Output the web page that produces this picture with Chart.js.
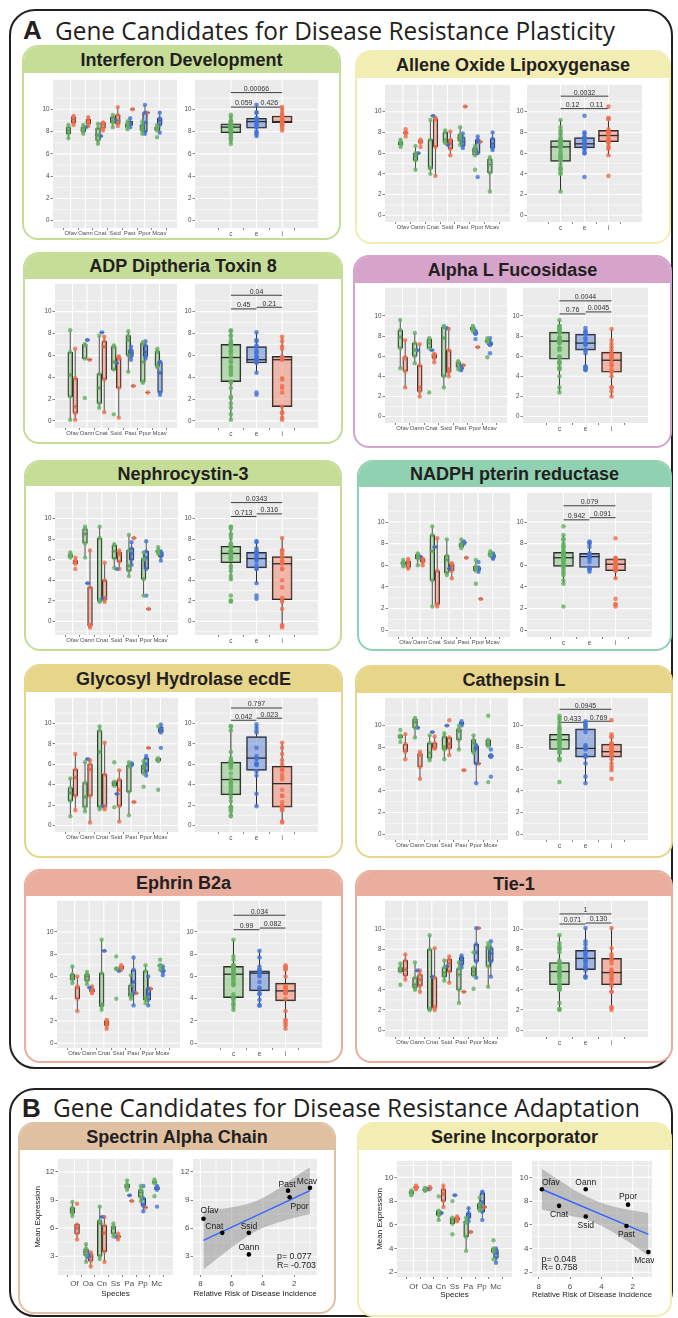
<!DOCTYPE html>
<html><head><meta charset="utf-8">
<script src="https://cdn.jsdelivr.net/npm/chart.js@4.4.1/dist/chart.umd.min.js"></script>
<style>
html,body{margin:0;padding:0;background:#fff;}
body{position:relative;width:678px;height:1318px;overflow:hidden;font-family:'Liberation Sans',Arial,sans-serif;}
.sec{position:absolute;box-sizing:border-box;border:2px solid #231f20;border-radius:26px;}
.letter{position:absolute;font-family:'Liberation Sans',Arial,sans-serif;font-weight:bold;font-size:26px;color:#231f20;line-height:1;}
.stitle{position:absolute;font-family:'Open Sans',sans-serif;font-weight:400;font-size:26px;color:#231f20;line-height:1;white-space:nowrap;transform-origin:0 0;}
.panel{position:absolute;box-sizing:border-box;border:2px solid;border-radius:16px;background:#fff;overflow:hidden;}
.hdr{position:absolute;left:0;right:0;top:0;display:flex;align-items:center;justify-content:center;font-weight:bold;font-size:18px;color:#231f20;white-space:nowrap;}
canvas{position:absolute;}
</style></head><body>
<div class="sec" style="left:9px;top:9px;width:664px;height:1060px;"></div>
<div class="letter" style="left:23px;top:17px;">A</div>
<div class="stitle" id="tA" style="left:55px;top:17px;">Gene Candidates for Disease Resistance Plasticity</div>
<div class="sec" style="left:9px;top:1088px;width:664px;height:229px;"></div>
<div class="letter" style="left:22px;top:1095px;">B</div>
<div class="stitle" id="tB" style="left:53px;top:1094px;">Gene Candidates for Disease Resistance Adaptation</div>
<script>
// ---------------- DATA ----------------
const SPECIES = ['Ofav','Oann','Cnat','Ssid','Past','Ppor','Mcav'];
const SPECIES_SHORT = ['Of','Oa','Cn','Ss','Pa','Pp','Mc'];
const GROUPS = ['c','e','i'];

// Interferon Development
const ifnC = [[7.4,7.8,8.1,8.4,8.6],[7.8,8.0,8.1,8.4,8.6],[6.9,7.2,7.7,8.3,8.7],[8.4,8.8,9.0,9.3,9.5],[8.2,8.4,8.6,8.7,8.9],[7.8,8.1,8.3,8.6,8.9],[7.5,8.1,8.3,8.4,8.6]];
const ifnE = [[],[8.4],[7.6],[9.0],[8.4,8.7,9.2],[7.8,8.0,8.8,9.7,10.4],[7.9,8.6,9.0,9.2,9.7]];
const ifnI = [[8.6,8.8,9.1,9.3,9.4],[8.5,8.7,8.8,9.1,9.3],[8.1,8.3,8.7,8.8,8.8],[8.5,8.7,9.0,9.5,10.2],[10.0],[9.7],[]];
const ifnBox = [[6.9,7.9,8.4,8.7,9.5],[7.5,8.3,8.9,9.2,10.4],[8.1,8.8,8.9,9.4,10.2]];
const ifnP = ['0.059','0.426','0.00066'];
const ifnPY = [10.2,10.2,11.5];

// Allene Oxide Lipoxygenase
const aoxC = [[6.6,6.8,7.0,7.1,7.3],[4.4,5.3,5.7,6.0,6.7],[4.0,4.5,4.6,7.3,9.2],[7.0,7.0,7.3,8.0,8.2],[6.8,7.2,7.5,7.8,8.5],[4.4,5.8,6.2,6.5,6.7],[2.3,4.1,4.9,5.4,5.6]];
const aoxE = [[],[6.0],[9.6],[6.8],[6.5,6.7,7.1,7.5,7.9],[3.7,6.0,7.1,7.3,7.6],[6.3,6.5,6.9,7.4,8.0]];
const aoxI = [[7.6,7.9,8.0,8.0,8.3],[6.6,7.0,7.1,7.2,7.3],[3.8,6.6,9.3,9.3,9.4],[5.8,6.4,7.0,7.3,8.1],[10.5],[7.1],[]];
const aoxBox = [[2.3,5.2,6.6,7.2,9.2],[6.0,6.5,6.9,7.5,8.0],[5.8,7.1,7.7,8.2,9.4]];
const aoxP = ['0.12','0.11','0.0032'];
const aoxPY = [10.3,10.3,11.5];

// ADP Diptheria Toxin 8
const adpC = [[0.1,2.2,4.2,6.3,8.3],[2.1,5.7,6.9,7.0,7.0],[1.2,1.6,3.0,4.3,7.8],[0.6,4.7,5.4,6.8,6.9],[4.5,6.0,7.4,7.8,8.2],[3.5,3.6,5.4,7.1,7.2],[4.9,5.0,6.3,6.4,6.6]];
const adpE = [[],[7.4],[8.1],[5.3],[5.6,5.9,6.2,6.5,6.8],[5.7,5.9,6.3,6.9,7.3],[2.4,2.6,4.4,5.4,5.4]];
const adpI = [[0.1,0.7,1.3,3.9,6.6],[5.6],[0.8,3.8,6.8,7.3,7.7],[0.3,3.0,5.7,5.8,5.9],[3.2],[2.6],[]];
const adpBox = [[0.1,3.6,5.8,7.0,8.3],[4.4,5.3,5.6,6.8,8.1],[0.1,1.3,5.6,5.9,7.7]];
const adpP = ['0.45','0.21','0.04'];
const adpPY = [10.25,10.4,11.5];

// Alpha L Fucosidase
const afuC = [[4.8,6.8,7.9,8.6,9.6],[5.3,6.0,6.6,7.3,8.3],[2.4,6.8,7.3,7.7,7.8],[2.9,4.0,7.8,8.9,9.0],[4.7,4.9,5.3,5.4,5.5],[8.5,8.6,8.7,8.9,9.0],[5.9,7.4,7.5,7.6,7.8]];
const afuE = [[],[6.6],[6.6],[8.8],[4.6,4.7,4.8,4.9,5.0],[7.7,8.2,8.3,8.4,8.5],[6.3,7.1,7.2,7.4,7.8]];
const afuI = [[2.9,4.5,5.8,5.9,7.6],[2.0,2.5,2.9,5.1,7.2],[5.4,5.8,6.1,6.2,6.2],[4.0,4.4,4.7,6.6,8.7],[5.1],[6.9],[]];
const afuBox = [[2.4,5.7,7.5,8.4,9.6],[4.5,6.6,7.3,8.2,8.7],[2.0,4.4,5.6,6.4,8.7]];
const afuP = ['0.76','0.0045','0.0044'];
const afuPY = [10.2,10.4,11.5];

// Nephrocystin-3
const nphC = [[6.2,6.3,6.4,6.5,6.7],[6.2,7.6,8.5,9.0,9.2],[1.9,2.0,2.0,8.1,9.2],[5.2,6.1,6.8,7.4,7.5],[4.4,4.9,5.4,6.9,8.4],[2.5,4.1,6.0,6.1,6.7],[6.6,6.7,6.8,6.9,7.2]];
const nphE = [[],[3.7],[2.2],[5.1],[5.5,6.0,6.6,7.1,7.7],[2.5,5.1,6.2,6.8,7.8],[5.9,6.3,6.5,6.7,6.8]];
const nphI = [[5.1,5.6,5.8,5.9,6.2],[-0.6,-0.4,-0.4,3.3,6.9],[1.9,2.1,2.3,4.0,5.7],[5.1,5.8,6.5,6.7,6.9],[8.1],[1.2],[]];
const nphBox = [[4.0,5.7,6.6,7.3,9.2],[3.7,5.2,6.1,6.7,7.8],[-0.6,2.1,5.6,6.3,8.1]];
const nphP = ['0.713','0.316','0.0343'];
const nphPY = [10.2,10.45,11.55];

// NADPH pterin reductase
const nprC = [[5.9,6.1,6.2,6.3,6.5],[6.0,6.6,6.8,7.0,7.1],[2.2,4.6,7.3,8.8,9.6],[5.1,5.3,6.5,6.9,8.4],[7.6,7.7,7.8,8.0,8.4],[4.3,5.5,5.7,5.9,6.5],[6.9,6.9,7.0,7.1,7.3]];
const nprE = [[],[6.8],[7.7],[5.7],[8.0,8.1,8.2],[5.4,5.6,5.7,5.8,6.3],[6.6,6.7,6.9,7.0,7.1]];
const nprI = [[5.7,5.8,6.2,6.4,6.6],[6.0,6.3,6.5,6.6,6.6],[2.2,2.4,2.4,5.5,8.5],[4.8,5.5,5.9,6.1,6.2],[6.7],[2.9],[]];
const nprBox = [[4.3,5.9,6.7,7.2,8.8],[5.4,5.8,6.8,7.1,8.2],[4.8,5.5,6.1,6.6,6.8]];
const nprP = ['0.942','0.091','0.079'];
const nprPY = [10.2,10.4,11.5];

// Glycosyl Hydrolase ecdE
const glyC = [[0.9,2.4,3.2,3.7,4.6],[1.4,1.8,2.8,4.2,6.2],[1.6,1.8,7.2,9.3,9.7],[1.8,3.9,4.1,4.3,6.2],[1.0,3.3,5.8,5.9,6.2],[3.8,5.1,5.6,5.9,6.3],[3.5,6.3,6.4,6.6,9.7]];
const glyE = [[],[6.5],[1.9],[3.1],[5.9,6.0,6.1],[4.9,5.3,6.0,6.6,6.8],[7.6,9.1,9.3,9.6,9.9]];
const glyI = [[1.5,2.9,4.7,5.5,7.0],[0.3,2.9,5.5,6.0,6.4],[1.6,1.8,1.9,5.0,8.1],[0.4,1.9,3.5,4.5,5.4],[2.3],[7.6],[]];
const glyBox = [[0.9,3.0,4.5,6.2,9.7],[1.9,5.4,6.6,8.7,9.9],[0.3,1.8,4.1,5.8,8.1]];
const glyP = ['0.042','0.023','0.797'];
const glyPY = [10.3,10.5,11.5];

// Cathepsin L
const ctlC = [[8.5,8.9,9.0,9.1,9.6],[8.9,9.8,10.3,10.6,10.7],[6.8,7.0,7.5,8.4,9.1],[6.9,7.8,8.0,9.0,9.3],[7.8,8.7,9.5,9.7,10.0],[7.5,7.6,8.4,8.7,9.1],[4.8,8.1,8.3,8.7,10.9]];
const ctlE = [[],[9.8],[9.4],[10.0],[10.0,10.2,10.4],[4.7,6.5,7.9,8.1,8.2],[5.3,7.1,7.2,7.3,7.8]];
const ctlI = [[6.9,7.6,7.7,8.3,9.2],[5.1,6.2,7.3,7.4,7.6],[7.9,7.9,8.0,8.4,9.0],[7.3,7.9,8.3,8.9,10.5],[5.9],[6.5],[]];
const ctlBox = [[6.9,7.8,8.7,9.2,10.9],[4.7,7.1,7.9,9.7,10.4],[5.9,7.1,7.6,8.3,9.2]];
const ctlP = ['0.433','0.769','0.0945'];
const ctlPY = [10.3,10.4,11.5];

// Ephrin B2a
const efnC = [[5.4,5.7,5.9,6.2,6.9],[5.3,5.6,6.0,6.2,6.4],[3.0,3.3,3.5,6.3,9.3],[4.0,6.7,6.7,6.7,7.8],[4.0,4.2,4.4,5.2,6.1],[3.6,3.9,4.1,6.5,7.0],[6.6,6.9,7.0,7.0,7.5]];
const efnE = [[],[5.0],[8.3],[6.5],[3.4,4.5,5.5,6.6,7.7],[3.4,3.9,4.4,4.9,6.0],[6.1,6.4,6.5,6.6,6.9]];
const efnI = [[2.9,4.0,5.0,5.1,6.0],[4.5,4.6,4.7,4.9,5.1],[1.3,1.6,1.8,2.0,2.1],[6.6,6.7,6.8,6.9,7.0],[4.5],[4.9],[]];
const efnBox = [[3.0,4.1,6.2,6.9,9.3],[3.4,4.7,6.3,6.5,8.3],[1.3,3.8,4.7,5.4,7.0]];
const efnP = ['0.99','0.082','0.034'];
const efnPY = [10.2,10.35,11.5];

// Tie-1
const tieC = [[4.5,5.8,6.0,6.2,6.6],[4.0,4.2,4.5,5.2,6.7],[2.0,2.1,2.1,8.0,9.4],[4.9,5.3,5.7,6.2,6.9],[2.7,4.0,5.5,6.1,6.7],[4.1,5.4,5.8,6.2,7.7],[4.3,6.3,8.1,8.3,8.6]];
const tieE = [[],[5.9],[5.3],[6.3],[6.2,6.5,6.9,7.2,7.4],[5.2,6.8,7.7,8.5,10.1],[5.3,6.8,7.6,8.1,8.8]];
const tieI = [[5.0,5.4,6.0,6.9,7.5],[3.8,4.4,5.0,5.5,5.9],[2.0,2.2,2.3,5.2,8.1],[4.7,5.8,6.6,7.0,7.3],[3.8],[10.1],[]];
const tieBox = [[2.0,4.5,5.8,6.7,9.4],[5.2,6.0,7.1,7.9,10.1],[2.0,4.5,5.7,7.1,10.1]];
const tieP = ['0.071','0.130','1'];
const tiePY = [10.5,10.6,11.5];

// Spectrin Alpha Chain
const spcC = [[7.3,7.6,7.9,8.2,8.8],[2.4,3.1,3.5,3.8,4.3],[2.7,3.0,6.5,6.8,8.3],[5.1,5.4,6.0,6.2,6.5],[10.1,10.3,10.5,10.7,11.1],[8.9,9.3,9.8,10.1,10.5],[9.4,10.8,10.9,11.0,11.2]];
const spcE = [[],[2.9,3.0,3.2],[7.2],[5.1],[9.5],[7.8,8.4,8.5,9.2,10.5],[8.3,10.1,10.3,10.4,10.5]];
const spcI = [[4.8,5.4,6.0,6.4,8.6],[1.9,2.5,3.0,3.2,3.4],[2.4,3.5,5.5,6.3,7.2],[4.8,5.0,5.1,5.2,5.4],[8.9],[8.2],[]];
const spcNames = ['Ofav','Cnat','Ssid','Oann','Past','Ppor','Mcav'];
const spcRisk = [7.8,6.6,4.9,4.9,2.4,2.3,1.0];
const spcMean = [7.0,5.5,5.5,3.2,10.0,9.3,10.3];
const spcFitX = [7.8,1.0];
const spcFitY = [4.7,10.0];
const spcBandX = [7.8,6.5,5.2,4.3,3.4,2.2,1.0];
const spcBandLo = [1.6,3.3,4.9,5.8,6.4,7.0,7.5];
const spcBandHi = [7.8,8.1,8.5,9.0,9.8,11.2,12.5];
const spcStat = ['p= 0.077','R= -0.703'];

// Serine Incorporator
const sriC = [[8.5,8.6,8.8,8.8,8.9],[8.9,8.9,9.0,9.0,9.1],[6.4,6.8,7.1,7.2,8.4],[5.2,6.1,6.4,6.6,8.0],[3.8,5.0,6.2,6.3,6.6],[7.2,7.3,7.5,7.8,8.3],[3.1,3.7,3.9,4.0,4.7]];
const sriE = [[],[9.0],[7.0],[8.5],[6.3,6.6,6.9,7.0,7.4],[6.4,7.1,7.9,8.7,8.8],[2.8,3.2,3.6,3.9,4.0]];
const sriI = [[9.0,9.1,9.2,9.2,9.3],[9.0,9.1,9.2],[7.5,8.0,8.6,9.0,9.3],[6.3,6.4,6.5,6.6,6.7],[5.4],[7.5],[]];
const sriNames = ['Ofav','Cnat','Oann','Ssid','Ppor','Past','Mcav'];
const sriRisk = [7.8,6.7,5.0,5.0,2.3,2.4,1.0];
const sriMean = [9.0,7.6,9.0,6.7,7.7,5.9,3.7];
const sriFitX = [7.8,1.0];
const sriFitY = [9.0,5.2];
const sriBandX = [7.8,6.5,5.2,4.3,3.4,2.2,1.0];
const sriBandLo = [7.3,6.9,6.55,6.1,5.5,4.5,3.4];
const sriBandHi = [10.7,9.6,8.55,8.0,7.6,7.25,7.0];
const sriStat = ['p= 0.048','R= 0.758'];

// ---------------- STYLE / LAYOUT ----------------
const FONT = "'Liberation Sans', Arial, Helvetica, sans-serif";
Chart.defaults.font.family = FONT;
const PT = {c:'rgba(100,176,98,0.8)', e:'rgba(68,116,214,0.8)', i:'rgba(240,110,78,0.8)'};
const FILL = {c:'rgba(118,188,108,0.45)', e:'rgba(88,128,210,0.5)', i:'rgba(240,118,88,0.45)'};
const OFFS = {c:-0.15, e:0.03, i:0.19};

const PANELS_A = [
 {title:'Interferon Development', col:'#c6dd98', box:[22,45,319,195], hdr:28, L:[53,177], R:[195,318], Y:[75,228], yr:[-0.65,12.65], c:ifnC, e:ifnE, i:ifnI, bx:ifnBox, p:ifnP, py:ifnPY},
 {title:'Allene Oxide Lipoxygenase', col:'#f2edb3', box:[355,50,316,194], hdr:28, L:[385,510], R:[527,642], Y:[80,222], yr:[-0.65,12.6], c:aoxC, e:aoxE, i:aoxI, bx:aoxBox, p:aoxP, py:aoxPY},
 {title:'ADP Diptheria Toxin 8', col:'#c6dd98', box:[23,252,320,192], hdr:27, L:[55,177], R:[195,318], Y:[279,428], yr:[-0.65,12.55], c:adpC, e:adpE, i:adpI, bx:adpBox, p:adpP, py:adpPY},
 {title:'Alpha L Fucosidase', col:'#d6a3cb', box:[353,255,319,193], hdr:28, L:[385,507], R:[523,648], Y:[283,423], yr:[-0.64,12.8], c:afuC, e:afuE, i:afuI, bx:afuBox, p:afuP, py:afuPY},
 {title:'Nephrocystin-3', col:'#c6dd98', box:[24,460,318,191], hdr:26, L:[55,178], R:[195,318], Y:[487,635], yr:[-1.33,12.6], c:nphC, e:nphE, i:nphI, bx:nphBox, p:nphP, py:nphPY},
 {title:'NADPH pterin reductase', col:'#8fd1b1', box:[357,460,315,191], hdr:27, L:[388,510], R:[527,652], Y:[488,637], yr:[-0.62,12.7], c:nprC, e:nprE, i:nprI, bx:nprBox, p:nprP, py:nprPY},
 {title:'Glycosyl Hydrolase ecdE', col:'#e7d58a', box:[24,664,319,194], hdr:28, L:[55,178], R:[195,318], Y:[693,832], yr:[-0.63,12.5], c:glyC, e:glyE, i:glyI, bx:glyBox, p:glyP, py:glyPY},
 {title:'Cathepsin L', col:'#e7d58a', box:[355,665,318,193], hdr:28, L:[385,508], R:[523,648], Y:[693,840], yr:[-0.53,12.56], c:ctlC, e:ctlE, i:ctlI, bx:ctlBox, p:ctlP, py:ctlPY},
 {title:'Ephrin B2a', col:'#e9ae9d', box:[24,869,319,194], hdr:27, L:[57,180], R:[197,322], Y:[896,1048], yr:[-0.43,12.8], c:efnC, e:efnE, i:efnI, bx:efnBox, p:efnP, py:efnPY},
 {title:'Tie-1', col:'#e9ae9d', box:[355,870,318,193], hdr:26, L:[385,508], R:[523,648], Y:[896,1037], yr:[-0.67,12.8], c:tieC, e:tieE, i:tieI, bx:tieBox, p:tieP, py:tiePY}
];
const PANELS_B = [
 {title:'Spectrin Alpha Chain', col:'#dfc1a2', box:[18,1122,318,192], hdr:28, L:[58,173], R:[193,317], Y:[1153,1275], yr:[1.0,13.4], yMaj:[3,6,9,12], yMin:[1.5,4.5,7.5,10.5], xr:[0.55,8.47], axL:25, axH:24, xPad:1.5,
  c:spcC, e:spcE, i:spcI, names:spcNames, rx:spcRisk, ry:spcMean, fx:spcFitX, fy:spcFitY, bX:spcBandX, bLo:spcBandLo, bHi:spcBandHi, stat:spcStat,
  statPos:[3.1,2.98,2.03], labOff:[[6,-8],[-8,-6],[0,-6],[0,-7],[-1,-6],[10,9],[-3,-6]]},
 {title:'Serine Incorporator', col:'#f2edb3', box:[357,1122,315,195], hdr:28, L:[397,512], R:[532,652], Y:[1155,1277], yr:[1.6,11.4], yMaj:[2,4,6,8,10], yMin:[3,5,7,9,11], xr:[0.77,8.43], axL:22, axH:23, xPad:3,
  c:sriC, e:sriE, i:sriI, names:sriNames, rx:sriRisk, ry:sriMean, fx:sriFitX, fy:sriFitY, bX:sriBandX, bLo:sriBandLo, bHi:sriBandHi, stat:sriStat,
  statPos:[7.82,3.04,2.43], labOff:[[9,-7],[0,9],[0,-7],[0,9],[0,-8],[0,9],[-4,9]]}
];

// ---------------- HELPERS ----------------
function q7(s,p){const h=(s.length-1)*p, lo=Math.floor(h), hi=Math.ceil(h); return s[lo]+(h-lo)*(s[hi]-s[lo]);}
function boxStats(v){
  const s=[...v].sort((a,b)=>a-b);
  const q1=q7(s,.25), med=q7(s,.5), q3=q7(s,.75), iqr=q3-q1;
  const inr=s.filter(x=>x>=q1-1.5*iqr-1e-9 && x<=q3+1.5*iqr+1e-9);
  return [Math.min(Math.min(...inr),q1), q1, med, q3, Math.max(Math.max(...inr),q3)];
}
const ggBg = {
  id:'ggBg',
  beforeDraw(chart){
    const g=chart.canvas._gg; if(!g) return;
    const {ctx, chartArea:a, scales:{x,y}} = chart;
    ctx.save();
    ctx.fillStyle='#ebebeb'; ctx.fillRect(a.left,a.top,a.width,a.height);
    ctx.beginPath(); ctx.rect(a.left,a.top,a.width,a.height); ctx.clip();
    ctx.strokeStyle='#ffffff';
    const H=(v,w)=>{const p=y.getPixelForValue(v); ctx.lineWidth=w; ctx.beginPath(); ctx.moveTo(a.left,p); ctx.lineTo(a.right,p); ctx.stroke();};
    const V=(v,w)=>{const p=x.getPixelForValue(v); ctx.lineWidth=w; ctx.beginPath(); ctx.moveTo(p,a.top); ctx.lineTo(p,a.bottom); ctx.stroke();};
    (g.yMinor||[]).forEach(v=>H(v,0.55)); (g.xMinor||[]).forEach(v=>V(v,0.55));
    (g.yMajor||[]).forEach(v=>H(v,1.1)); (g.xMajor||[]).forEach(v=>V(v,1.1));
    ctx.restore();
  }
};
const ggBox = {
  id:'ggBox',
  afterDatasetDraw(chart,args){
    const ds=chart.data.datasets[args.index]; if(!ds.boxStats) return;
    const {ctx, scales:{y}} = chart; const meta=args.meta;
    ctx.save(); ctx.strokeStyle='#2b2b2b';
    meta.data.forEach((el,k)=>{
      const st=ds.boxStats[k]; const x=el.x, w=el.width;
      ctx.lineWidth=ds.whiskW;
      ctx.beginPath(); ctx.moveTo(x,y.getPixelForValue(st[0])); ctx.lineTo(x,y.getPixelForValue(st[1]));
      ctx.moveTo(x,y.getPixelForValue(st[3])); ctx.lineTo(x,y.getPixelForValue(st[4])); ctx.stroke();
      ctx.lineWidth=ds.medW;
      const m=y.getPixelForValue(st[2]);
      ctx.beginPath(); ctx.moveTo(x-w/2,m); ctx.lineTo(x+w/2,m); ctx.stroke();
    });
    ctx.restore();
  }
};
const ggText = {
  id:'ggText',
  afterDatasetsDraw(chart){
    const o=chart.canvas._gg; const {ctx, scales:{x,y}} = chart;
    ctx.save();
    chart.data.datasets.forEach(ds=>{
      if(!ds.sigLabel) return;
      const d=ds.data;
      const px=(x.getPixelForValue(d[0].x)+x.getPixelForValue(d[1].x))/2;
      const py=y.getPixelForValue(d[0].y);
      ctx.font=o.sfs+'px '+FONT; ctx.fillStyle='#333'; ctx.textAlign='center'; ctx.textBaseline='alphabetic';
      ctx.fillText(ds.sigLabel,px,py-1.6);
    });
    (o.texts||[]).forEach(t=>{
      ctx.font=t.fs+'px '+FONT; ctx.fillStyle='#1a1a1a'; ctx.textAlign=t.align||'center'; ctx.textBaseline='middle';
      ctx.fillText(t.text, x.getPixelForValue(t.x)+(t.dx||0), y.getPixelForValue(t.y)+(t.dy||0));
    });
    ctx.restore();
  }
};

function makeChart(o){
  const cv=document.createElement('canvas');
  const W=Math.round(o.gw+o.axisW+o.padR), H=Math.round(o.gh+o.padT+o.axisH);
  cv.width=W; cv.height=H;
  cv.style.left=(o.gx-o.axisW)+'px'; cv.style.top=(o.gy-o.padT)+'px';
  cv.style.width=W+'px'; cv.style.height=H+'px';
  document.body.appendChild(cv);
  cv._gg=o;
  const tf={size:o.fs, family:FONT};
  const titleCfg=t=>t?{display:true,text:t,font:{size:o.tfs,family:FONT},color:'#1a1a1a',padding:{top:0,bottom:0}}:{display:false};
  new Chart(cv,{
    type:'scatter',
    data:{datasets:o.datasets},
    options:{
      responsive:false, animation:false, events:[], devicePixelRatio:1,
      layout:{autoPadding:false, padding:{left:0,right:o.padR,top:o.padT,bottom:0}},
      plugins:{legend:{display:false}, tooltip:{enabled:false}},
      scales:{
        x:{type:'linear', position:'bottom', min:o.xMin, max:o.xMax, reverse:!!o.xRev,
           afterFit:s=>{s.height=o.axisH;},
           afterBuildTicks:s=>{s.ticks=o.xTicks.map(v=>({value:v}));},
           ticks:{autoSkip:false, maxRotation:0, minRotation:0, padding:o.xPad, font:{size:o.xfs||o.fs, family:FONT}, color:'#4d4d4d', callback:(v,i)=>o.xLabels[i]},
           grid:{drawOnChartArea:false, drawTicks:true, tickLength:2, tickColor:'#333', tickWidth:0.6},
           border:{display:false}, title:titleCfg(o.xTitle)},
        y:{type:'linear', position:'left', min:o.yMin, max:o.yMax,
           afterFit:s=>{s.width=o.axisW;},
           afterBuildTicks:s=>{s.ticks=o.yTicks.map(v=>({value:v}));},
           ticks:{autoSkip:false, padding:1, font:tf, color:'#4d4d4d', callback:v=>String(v)},
           grid:{drawOnChartArea:false, drawTicks:true, tickLength:2.5, tickColor:'#333', tickWidth:0.6},
           border:{display:false}, title:titleCfg(o.yTitle)}
      }
    },
    plugins:[ggBg, ggBox, ggText]
  });
}

function addPanel(P){
  const d=document.createElement('div'); d.className='panel';
  d.style.left=P.box[0]+'px'; d.style.top=P.box[1]+'px'; d.style.width=P.box[2]+'px'; d.style.height=P.box[3]+'px';
  d.style.borderColor=P.col;
  const h=document.createElement('div'); h.className='hdr'; h.style.height=(P.hdr-2)+'px'; h.style.background=P.col; h.textContent=P.title;
  d.appendChild(h); document.body.appendChild(d);
}

function speciesDatasets(P, barW){
  const boxData=[], st=[], fills=[]; const pts={c:[],e:[],i:[]};
  SPECIES.forEach((sp,k)=>GROUPS.forEach(g=>{
    const v=P[g][k]; if(!v||!v.length) return;
    const x=k+1+OFFS[g]; const s=boxStats(v);
    boxData.push({x, y:[s[1],s[3]]}); st.push(s); fills.push(FILL[g]);
    v.forEach(val=>pts[g].push({x, y:val}));
  }));
  const ds=[{type:'bar', data:boxData, backgroundColor:fills, borderColor:'#2b2b2b', borderWidth:0.8, borderSkipped:false, barThickness:barW, boxStats:st, whiskW:0.8, medW:1.2, order:3}];
  GROUPS.forEach(g=>ds.push({type:'scatter', data:pts[g], pointRadius:2.2, pointBackgroundColor:PT[g], pointBorderWidth:0, order:1}));
  return ds;
}

function buildA(P){
  addPanel(P);
  const yMaj=[0,2,4,6,8,10], yMin=[-1,1,3,5,7,9,11].filter(v=>v>P.yr[0]&&v<P.yr[1]);
  const idx7=[1,2,3,4,5,6,7];
  makeChart({gx:P.L[0], gy:P.Y[0], gw:P.L[1]-P.L[0], gh:P.Y[1]-P.Y[0], axisW:28, axisH:12, padT:0, padR:2,
    xMin:0.4, xMax:7.6, yMin:P.yr[0], yMax:P.yr[1], xTicks:idx7, xLabels:SPECIES, yTicks:yMaj, xPad:0,
    xMajor:idx7, xMinor:[], yMajor:yMaj, yMinor:yMin, fs:6.3, xfs:5.9, sfs:7,
    datasets:speciesDatasets(P,4.8)});
  // right: pooled by treatment
  const boxData=P.bx.map((b,k)=>({x:k+1, y:[b[1],b[3]]}));
  const ds=[{type:'bar', data:boxData, backgroundColor:GROUPS.map(g=>FILL[g]), borderColor:'#2b2b2b', borderWidth:1, borderSkipped:false, barThickness:20, boxStats:P.bx, whiskW:1, medW:1.3, order:3}];
  const pairs=[[1,2],[2,3],[1,3]];
  pairs.forEach((pr,k)=>ds.push({type:'line', data:[{x:pr[0],y:P.py[k]},{x:pr[1],y:P.py[k]}], borderColor:'#2b2b2b', borderWidth:0.9, pointRadius:0, fill:false, showLine:true, order:2, sigLabel:P.p[k]}));
  GROUPS.forEach((g,k)=>ds.push({type:'scatter', data:P[g].flat().map(v=>({x:k+1,y:v})), pointRadius:2.3, pointBackgroundColor:PT[g], pointBorderWidth:0, order:1}));
  makeChart({gx:P.R[0], gy:P.Y[0], gw:P.R[1]-P.R[0], gh:P.Y[1]-P.Y[0], axisW:18, axisH:12, padT:0, padR:2,
    xMin:0.4, xMax:3.6, yMin:P.yr[0], yMax:P.yr[1], xTicks:[1,2,3], xLabels:GROUPS, yTicks:yMaj, xPad:0,
    xMajor:[1,2,3], xMinor:[], yMajor:yMaj, yMinor:yMin, fs:6.3, sfs:7, datasets:ds});
}

function buildB(P){
  addPanel(P);
  const idx7=[1,2,3,4,5,6,7];
  makeChart({gx:P.L[0], gy:P.Y[0], gw:P.L[1]-P.L[0], gh:P.Y[1]-P.Y[0], axisW:P.axL, axisH:P.axH, padT:0, padR:2,
    xMin:0.4, xMax:7.6, yMin:P.yr[0], yMax:P.yr[1], xTicks:idx7, xLabels:SPECIES_SHORT, yTicks:P.yMaj, xPad:P.xPad,
    xMajor:idx7, xMinor:[], yMajor:P.yMaj, yMinor:P.yMin, fs:8, tfs:8, sfs:7, xTitle:'Species', yTitle:'Mean Expression',
    datasets:speciesDatasets(P,4.8)});
  const ds=[
    {type:'line', data:P.bX.map((x,k)=>({x,y:P.bHi[k]})), borderWidth:0, borderColor:'rgba(0,0,0,0)', pointRadius:0, fill:'+1', backgroundColor:'rgba(125,125,125,0.42)', tension:0.35, order:6},
    {type:'line', data:P.bX.map((x,k)=>({x,y:P.bLo[k]})), borderWidth:0, borderColor:'rgba(0,0,0,0)', pointRadius:0, fill:false, tension:0.35, order:6},
    {type:'line', data:P.fx.map((x,k)=>({x,y:P.fy[k]})), borderColor:'#3366ff', borderWidth:1.4, pointRadius:0, fill:false, order:4},
    {type:'scatter', data:P.rx.map((x,k)=>({x,y:P.ry[k]})), pointRadius:2.3, pointBackgroundColor:'#000', pointBorderWidth:0, order:1}
  ];
  const texts=P.names.map((n,k)=>({text:n, x:P.rx[k], y:P.ry[k], dx:P.labOff[k][0], dy:P.labOff[k][1], fs:8.5}));
  texts.push({text:P.stat[0], x:P.statPos[0], y:P.statPos[1], fs:8.8, align:'left'});
  texts.push({text:P.stat[1], x:P.statPos[0], y:P.statPos[2], fs:8.8, align:'left'});
  makeChart({gx:P.R[0], gy:P.Y[0], gw:P.R[1]-P.R[0], gh:P.Y[1]-P.Y[0], axisW:16, axisH:P.axH, padT:0, padR:2,
    xMin:P.xr[0], xMax:P.xr[1], xRev:true, yMin:P.yr[0], yMax:P.yr[1], xTicks:[8,6,4,2], xLabels:['8','6','4','2'], yTicks:P.yMaj, xPad:P.xPad,
    xMajor:[2,4,6,8], xMinor:[1,3,5,7], yMajor:P.yMaj, yMinor:P.yMin, fs:8, tfs:8, sfs:7, xTitle:'Relative Risk of Disease Incidence',
    datasets:ds, texts});
}

PANELS_A.forEach(buildA);
PANELS_B.forEach(buildB);

// fit section titles to their measured widths
[['tA',560],['tB',587]].forEach(([id,w])=>{const e=document.getElementById(id); const s=w/e.getBoundingClientRect().width; e.style.transform='scaleX('+s+')';});
</script>
</body></html>
